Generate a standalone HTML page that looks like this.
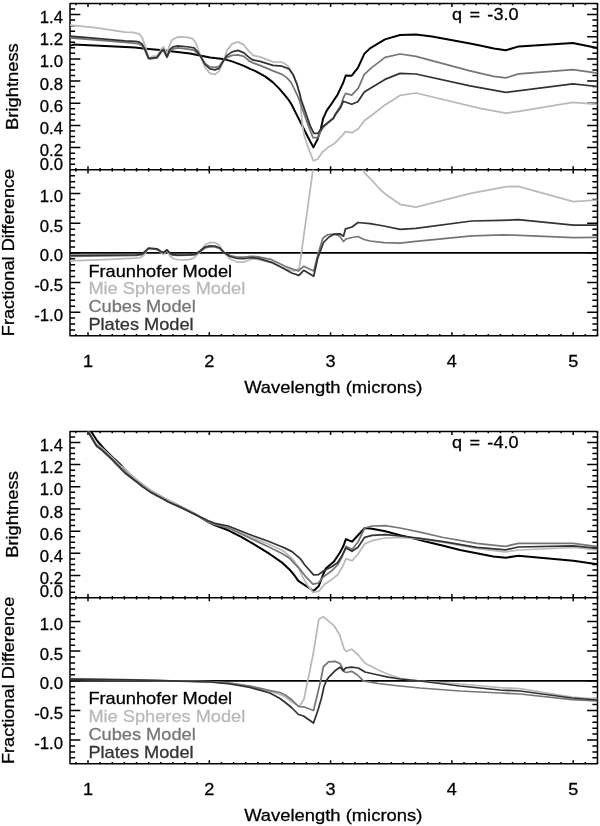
<!DOCTYPE html>
<html lang="en"><head><meta charset="utf-8"><title>Model spectra</title>
<style>html,body{margin:0;padding:0;background:#fff}svg{display:block}</style></head>
<body>
<svg width="600" height="826" viewBox="0 0 600 826" font-family="'Liberation Sans', Arial, Helvetica, sans-serif" font-size="17.0" fill="#000" stroke-width="0.28">
<defs><clipPath id="ta"><rect x="70.0" y="3.5" width="527.5" height="166.5"/></clipPath><clipPath id="la"><rect x="70.0" y="169.8" width="527.5" height="166"/></clipPath><clipPath id="tb"><rect x="70.0" y="431.4" width="527.5" height="166.5"/></clipPath><clipPath id="lb"><rect x="70.0" y="597.7" width="527.5" height="166"/></clipPath></defs>
<rect width="600" height="826" fill="#fff"/>
<g id="plot1">
<rect x="70.0" y="3.5" width="527.5" height="332.35" fill="none" stroke="#000" stroke-width="1.5" stroke-linejoin="round"/>
<line x1="70.0" y1="169.8" x2="597.5" y2="169.8" stroke="#000" stroke-width="1.5"/>
<path d="M75.87,3.5v1.8M75.87,168.0v3.6M75.87,335.85v-1.8M88.00,3.5v3.6M88.00,166.20000000000002v7.2M88.00,335.85v-3.6M100.13,3.5v1.8M100.13,168.0v3.6M100.13,335.85v-1.8M112.26,3.5v1.8M112.26,168.0v3.6M112.26,335.85v-1.8M124.39,3.5v1.8M124.39,168.0v3.6M124.39,335.85v-1.8M136.52,3.5v1.8M136.52,168.0v3.6M136.52,335.85v-1.8M148.65,3.5v1.8M148.65,168.0v3.6M148.65,335.85v-1.8M160.78,3.5v1.8M160.78,168.0v3.6M160.78,335.85v-1.8M172.91,3.5v1.8M172.91,168.0v3.6M172.91,335.85v-1.8M185.04,3.5v1.8M185.04,168.0v3.6M185.04,335.85v-1.8M197.17,3.5v1.8M197.17,168.0v3.6M197.17,335.85v-1.8M209.30,3.5v3.6M209.30,166.20000000000002v7.2M209.30,335.85v-3.6M221.43,3.5v1.8M221.43,168.0v3.6M221.43,335.85v-1.8M233.56,3.5v1.8M233.56,168.0v3.6M233.56,335.85v-1.8M245.69,3.5v1.8M245.69,168.0v3.6M245.69,335.85v-1.8M257.82,3.5v1.8M257.82,168.0v3.6M257.82,335.85v-1.8M269.95,3.5v1.8M269.95,168.0v3.6M269.95,335.85v-1.8M282.08,3.5v1.8M282.08,168.0v3.6M282.08,335.85v-1.8M294.21,3.5v1.8M294.21,168.0v3.6M294.21,335.85v-1.8M306.34,3.5v1.8M306.34,168.0v3.6M306.34,335.85v-1.8M318.47,3.5v1.8M318.47,168.0v3.6M318.47,335.85v-1.8M330.60,3.5v3.6M330.60,166.20000000000002v7.2M330.60,335.85v-3.6M342.73,3.5v1.8M342.73,168.0v3.6M342.73,335.85v-1.8M354.86,3.5v1.8M354.86,168.0v3.6M354.86,335.85v-1.8M366.99,3.5v1.8M366.99,168.0v3.6M366.99,335.85v-1.8M379.12,3.5v1.8M379.12,168.0v3.6M379.12,335.85v-1.8M391.25,3.5v1.8M391.25,168.0v3.6M391.25,335.85v-1.8M403.38,3.5v1.8M403.38,168.0v3.6M403.38,335.85v-1.8M415.51,3.5v1.8M415.51,168.0v3.6M415.51,335.85v-1.8M427.64,3.5v1.8M427.64,168.0v3.6M427.64,335.85v-1.8M439.77,3.5v1.8M439.77,168.0v3.6M439.77,335.85v-1.8M451.90,3.5v3.6M451.90,166.20000000000002v7.2M451.90,335.85v-3.6M464.03,3.5v1.8M464.03,168.0v3.6M464.03,335.85v-1.8M476.16,3.5v1.8M476.16,168.0v3.6M476.16,335.85v-1.8M488.29,3.5v1.8M488.29,168.0v3.6M488.29,335.85v-1.8M500.42,3.5v1.8M500.42,168.0v3.6M500.42,335.85v-1.8M512.55,3.5v1.8M512.55,168.0v3.6M512.55,335.85v-1.8M524.68,3.5v1.8M524.68,168.0v3.6M524.68,335.85v-1.8M536.81,3.5v1.8M536.81,168.0v3.6M536.81,335.85v-1.8M548.94,3.5v1.8M548.94,168.0v3.6M548.94,335.85v-1.8M561.07,3.5v1.8M561.07,168.0v3.6M561.07,335.85v-1.8M573.20,3.5v3.6M573.20,166.20000000000002v7.2M573.20,335.85v-3.6M585.33,3.5v1.8M585.33,168.0v3.6M585.33,335.85v-1.8M597.46,3.5v1.8M597.46,168.0v3.6M597.46,335.85v-1.8M70.0,164.26h5.1M597.5,164.26h-5.1M70.0,158.71h5.1M597.5,158.71h-5.1M70.0,153.17h5.1M597.5,153.17h-5.1M70.0,147.62h10.35M597.5,147.62h-10.35M70.0,142.08h5.1M597.5,142.08h-5.1M70.0,136.53h5.1M597.5,136.53h-5.1M70.0,130.99h5.1M597.5,130.99h-5.1M70.0,125.44h10.35M597.5,125.44h-10.35M70.0,119.90h5.1M597.5,119.90h-5.1M70.0,114.35h5.1M597.5,114.35h-5.1M70.0,108.81h5.1M597.5,108.81h-5.1M70.0,103.26h10.35M597.5,103.26h-10.35M70.0,97.72h5.1M597.5,97.72h-5.1M70.0,92.17h5.1M597.5,92.17h-5.1M70.0,86.62h5.1M597.5,86.62h-5.1M70.0,81.08h10.35M597.5,81.08h-10.35M70.0,75.53h5.1M597.5,75.53h-5.1M70.0,69.99h5.1M597.5,69.99h-5.1M70.0,64.44h5.1M597.5,64.44h-5.1M70.0,58.90h10.35M597.5,58.90h-10.35M70.0,53.36h5.1M597.5,53.36h-5.1M70.0,47.81h5.1M597.5,47.81h-5.1M70.0,42.26h5.1M597.5,42.26h-5.1M70.0,36.72h10.35M597.5,36.72h-10.35M70.0,31.18h5.1M597.5,31.18h-5.1M70.0,25.63h5.1M597.5,25.63h-5.1M70.0,20.09h5.1M597.5,20.09h-5.1M70.0,14.54h10.35M597.5,14.54h-10.35M70.0,8.99h5.1M597.5,8.99h-5.1M70.0,329.94h5.1M597.5,329.94h-5.1M70.0,324.01h5.1M597.5,324.01h-5.1M70.0,318.08h5.1M597.5,318.08h-5.1M70.0,312.15h10.35M597.5,312.15h-10.35M70.0,306.22h5.1M597.5,306.22h-5.1M70.0,300.29h5.1M597.5,300.29h-5.1M70.0,294.36h5.1M597.5,294.36h-5.1M70.0,288.43h5.1M597.5,288.43h-5.1M70.0,282.50h10.35M597.5,282.50h-10.35M70.0,276.57h5.1M597.5,276.57h-5.1M70.0,270.64h5.1M597.5,270.64h-5.1M70.0,264.71h5.1M597.5,264.71h-5.1M70.0,258.78h5.1M597.5,258.78h-5.1M70.0,252.85h10.35M597.5,252.85h-10.35M70.0,246.92h5.1M597.5,246.92h-5.1M70.0,240.99h5.1M597.5,240.99h-5.1M70.0,235.06h5.1M597.5,235.06h-5.1M70.0,229.13h5.1M597.5,229.13h-5.1M70.0,223.20h10.35M597.5,223.20h-10.35M70.0,217.27h5.1M597.5,217.27h-5.1M70.0,211.34h5.1M597.5,211.34h-5.1M70.0,205.41h5.1M597.5,205.41h-5.1M70.0,199.48h5.1M597.5,199.48h-5.1M70.0,193.55h10.35M597.5,193.55h-10.35M70.0,187.62h5.1M597.5,187.62h-5.1M70.0,181.69h5.1M597.5,181.69h-5.1M70.0,175.76h5.1M597.5,175.76h-5.1" stroke="#000" stroke-width="1.5" fill="none"/>
<polyline points="70.0,45.7 73.3,44.6 100.0,45.8 135.0,47.4 143.3,48.4 160.0,50.1 190.0,53.4 200.0,55.4 210.0,57.4 223.0,58.9 232.0,61.4 240.0,64.4 245.0,66.4 250.0,68.9 255.0,70.9 265.0,76.4 273.0,82.4 279.0,88.4 285.0,95.4 289.0,100.4 291.7,104.7 297.5,116.4 301.7,124.6 307.5,136.2 313.4,147.4 317.4,139.6 320.6,130.0 323.2,118.2 324.6,115.4 326.7,110.6 328.8,107.6 331.3,104.2 335.2,98.2 337.2,95.4 343.3,82.5 345.7,75.5 351.5,75.8 357.9,67.9 364.3,53.9 370.0,48.4 385.0,39.4 400.0,35.0 416.0,34.4 432.0,36.4 470.0,43.4 480.0,45.6 493.8,48.6 505.8,50.3 518.8,46.4 572.9,43.1 597.5,48.1" fill="none" stroke="#000" stroke-width="2.0" stroke-linejoin="round" clip-path="url(#ta)"/>
<polyline points="70.0,25.1 95.0,27.6 125.0,32.1 133.3,32.3 135.0,32.9 139.0,33.9 142.0,37.4 145.0,45.4 148.0,55.9 149.5,58.9 152.0,56.4 157.0,55.9 161.0,49.4 163.5,46.9 167.0,53.4 169.5,45.4 172.0,39.9 177.0,37.2 182.0,36.9 189.0,37.6 193.0,38.9 196.0,43.4 200.0,54.4 205.0,67.4 210.0,73.4 215.0,74.4 219.0,71.4 223.0,62.4 227.0,50.4 232.0,43.9 238.0,41.9 244.0,44.9 247.0,48.9 249.0,51.4 253.0,55.4 260.0,56.9 273.0,61.9 282.0,62.2 286.0,64.4 289.0,67.4 293.0,74.4 297.0,84.4 299.8,95.4 300.8,107.1 302.5,126.2 304.2,135.4 308.3,147.9 313.3,160.8 317.5,159.2 322.5,152.1 328.3,147.1 334.2,143.7 340.0,137.9 345.5,131.7 351.9,132.7 358.3,128.8 364.2,120.7 372.3,114.8 385.0,104.9 400.0,95.4 416.0,93.0 480.0,108.4 505.8,113.1 518.8,111.4 572.9,102.3 597.5,104.4" fill="none" stroke="#b9b9b9" stroke-width="1.75" stroke-linejoin="round" clip-path="url(#ta)"/>
<polyline points="70.0,37.9 125.0,42.4 138.3,43.7 142.0,45.4 145.0,50.4 148.5,58.6 150.0,59.0 157.0,58.0 161.0,52.4 163.5,50.4 167.0,57.4 170.0,50.9 173.0,48.9 178.0,47.9 190.0,49.4 194.0,50.4 200.0,55.4 205.0,63.4 210.0,66.9 215.0,67.4 219.0,66.4 223.0,60.9 227.0,57.4 232.0,55.4 238.0,54.9 244.0,56.4 249.0,60.9 253.0,62.9 260.0,65.4 273.0,70.9 282.0,74.4 287.0,77.9 291.0,82.4 295.0,90.4 298.5,97.9 302.9,110.4 307.5,123.4 312.9,137.5 317.9,137.5 320.0,132.9 323.3,127.1 328.3,122.9 333.3,118.7 335.2,113.9 341.0,105.2 343.3,98.0 345.6,93.4 351.7,95.1 358.3,88.2 364.3,74.4 371.3,67.9 378.3,62.6 385.0,57.4 400.0,54.0 416.0,56.4 470.0,70.9 493.8,76.3 505.8,77.8 518.8,73.9 572.9,69.6 597.5,73.1" fill="none" stroke="#767676" stroke-width="1.75" stroke-linejoin="round" clip-path="url(#ta)"/>
<polyline points="70.0,36.2 125.0,40.9 135.0,41.4 139.0,41.9 142.0,43.9 145.0,49.4 148.5,57.9 150.0,58.4 157.0,57.4 161.0,51.4 163.5,49.4 167.0,56.9 170.0,49.4 173.0,46.9 178.0,45.9 189.0,47.0 194.0,47.9 198.0,52.4 200.0,55.4 205.0,64.4 210.0,68.9 215.0,69.9 219.0,68.4 223.0,61.4 227.0,55.4 232.0,51.9 238.0,50.4 244.0,52.9 249.0,57.4 253.0,59.9 260.0,61.4 273.0,65.4 282.0,66.2 289.0,68.9 293.0,74.4 297.0,84.4 300.0,94.4 301.0,99.4 304.5,109.4 310.0,125.4 313.8,133.3 317.9,133.3 320.0,130.4 323.3,126.2 328.3,122.1 333.3,118.3 335.2,115.0 340.8,107.2 343.3,101.2 351.7,104.3 357.8,101.7 364.3,92.1 371.3,87.7 385.0,79.4 400.0,73.4 416.0,74.0 470.0,85.9 505.8,92.3 572.9,83.9 597.5,86.5" fill="none" stroke="#333" stroke-width="1.75" stroke-linejoin="round" clip-path="url(#ta)"/>
<polyline points="70.0,252.9 597.5,252.9" fill="none" stroke="#000" stroke-width="1.75" stroke-linejoin="round"/>
<polyline points="70.0,260.9 110.0,259.4 135.0,258.1 140.5,257.5 144.0,255.0 146.5,251.0 148.5,248.5 157.0,249.5 161.0,252.5 163.5,254.5 167.0,250.5 170.0,256.0 174.0,259.0 180.0,260.0 189.0,259.7 194.0,258.0 200.0,252.0 205.0,245.0 210.0,242.5 215.0,242.5 219.0,245.0 224.0,252.5 230.0,259.0 237.0,262.0 244.0,262.0 248.0,260.3 251.7,259.0 258.0,259.5 271.7,263.0 285.0,269.0 294.3,271.0 299.3,268.0 313.0,169.5 314.0,162.0" fill="none" stroke="#b9b9b9" stroke-width="1.75" stroke-linejoin="round" clip-path="url(#la)"/>
<polyline points="360.5,162.0 362.4,169.2 365.0,173.3 371.7,180.0 378.3,187.5 385.0,193.8 400.0,204.3 415.8,207.1 471.7,193.2 500.0,187.8 506.7,186.7 518.3,186.3 573.3,201.7 597.5,200.0" fill="none" stroke="#b9b9b9" stroke-width="1.75" stroke-linejoin="round" clip-path="url(#la)"/>
<polyline points="70.0,256.3 136.7,255.5 142.0,254.6 145.0,252.0 148.5,248.6 157.0,249.3 161.0,252.0 163.5,253.0 167.0,250.3 169.5,253.0 172.0,254.8 177.0,255.4 189.0,255.2 195.0,254.6 200.0,251.5 205.0,248.0 210.0,246.8 215.0,247.0 220.0,248.8 224.0,252.5 230.0,255.5 237.0,257.0 244.0,257.0 248.0,256.7 251.7,256.3 258.3,256.8 271.7,259.7 285.0,266.3 298.3,271.0 303.7,266.3 313.7,271.0 318.3,253.0 323.0,238.0 328.0,234.5 334.0,234.2 339.5,236.0 343.5,241.5 346.0,239.0 352.0,237.5 358.0,236.5 364.0,239.5 370.0,241.0 384.0,242.6 400.0,243.2 415.8,241.4 471.7,235.8 503.3,234.8 573.3,237.6 597.5,237.4" fill="none" stroke="#767676" stroke-width="1.75" stroke-linejoin="round" clip-path="url(#la)"/>
<polyline points="70.0,255.5 136.7,254.9 142.0,254.0 145.0,251.5 148.5,248.0 157.0,248.8 161.0,251.5 163.5,252.5 167.0,249.8 169.5,252.5 172.0,254.5 177.0,255.2 189.0,255.0 195.0,254.5 200.0,251.0 205.0,247.0 210.0,245.8 215.0,246.0 220.0,248.0 224.0,252.5 230.0,256.5 237.0,258.5 244.0,258.7 248.0,258.0 251.7,257.7 258.3,258.3 271.7,262.3 282.3,267.7 291.7,273.0 299.0,275.4 303.7,270.3 313.7,276.3 317.7,258.3 323.5,242.5 329.0,237.0 334.0,234.2 340.0,233.8 343.5,236.2 345.5,228.8 352.0,227.0 358.0,222.5 370.0,223.6 384.0,226.0 400.0,229.3 415.8,228.3 471.7,221.0 500.0,220.4 518.3,219.7 573.3,225.1 597.5,225.1" fill="none" stroke="#333" stroke-width="1.75" stroke-linejoin="round" clip-path="url(#la)"/>
<text transform="translate(63.0,23.0) scale(0.985,1)" text-anchor="end" fill="#000" stroke="#000">1.4</text>
<text transform="translate(63.0,45.2) scale(0.985,1)" text-anchor="end" fill="#000" stroke="#000">1.2</text>
<text transform="translate(63.0,67.4) scale(0.985,1)" text-anchor="end" fill="#000" stroke="#000">1.0</text>
<text transform="translate(63.0,89.6) scale(0.985,1)" text-anchor="end" fill="#000" stroke="#000">0.8</text>
<text transform="translate(63.0,111.8) scale(0.985,1)" text-anchor="end" fill="#000" stroke="#000">0.6</text>
<text transform="translate(63.0,133.9) scale(0.985,1)" text-anchor="end" fill="#000" stroke="#000">0.4</text>
<text transform="translate(63.0,156.1) scale(0.985,1)" text-anchor="end" fill="#000" stroke="#000">0.2</text>
<text transform="translate(63.0,169.5) scale(0.985,1)" text-anchor="end" fill="#000" stroke="#000">0.0</text>
<text transform="translate(63.0,202.1) scale(0.985,1)" text-anchor="end" fill="#000" stroke="#000">1.0</text>
<text transform="translate(63.0,231.7) scale(0.985,1)" text-anchor="end" fill="#000" stroke="#000">0.5</text>
<text transform="translate(63.0,261.4) scale(0.985,1)" text-anchor="end" fill="#000" stroke="#000">0.0</text>
<text transform="translate(63.0,291.0) scale(0.985,1)" text-anchor="end" fill="#000" stroke="#000">-0.5</text>
<text transform="translate(63.0,320.6) scale(0.985,1)" text-anchor="end" fill="#000" stroke="#000">-1.0</text>
<text transform="translate(88.0,367.2) scale(1.065,1)" text-anchor="middle" fill="#000" stroke="#000">1</text>
<text transform="translate(209.3,367.2) scale(1.065,1)" text-anchor="middle" fill="#000" stroke="#000">2</text>
<text transform="translate(330.6,367.2) scale(1.065,1)" text-anchor="middle" fill="#000" stroke="#000">3</text>
<text transform="translate(451.9,367.2) scale(1.065,1)" text-anchor="middle" fill="#000" stroke="#000">4</text>
<text transform="translate(573.2,367.2) scale(1.065,1)" text-anchor="middle" fill="#000" stroke="#000">5</text>
<text transform="translate(333.2,393.1) scale(1.082,1)" text-anchor="middle" fill="#000" stroke="#000">Wavelength (microns)</text>
<text transform="translate(18.2,86.6) rotate(-90) scale(1.08,1)" text-anchor="middle" fill="#000" stroke="#000">Brightness</text>
<text transform="translate(14.4,252.5) rotate(-90) scale(1.07,1)" text-anchor="middle" fill="#000" stroke="#000">Fractional Difference</text>
<text transform="translate(452.0,20.0) scale(1.065,1)" fill="#000" stroke="#000" word-spacing="2.2">q = -3.0</text>
<text transform="translate(88.4,276.5) scale(1.072,1)" fill="#000" stroke="#000">Fraunhofer Model</text>
<text transform="translate(88.4,294.2) scale(1.072,1)" fill="#b9b9b9" stroke="#b9b9b9">Mie Spheres Model</text>
<text transform="translate(88.4,311.9) scale(1.072,1)" fill="#767676" stroke="#767676">Cubes Model</text>
<text transform="translate(88.4,329.6) scale(1.072,1)" fill="#333" stroke="#333">Plates Model</text>
</g>
<g id="plot2">
<rect x="70.0" y="431.4" width="527.5" height="332.35" fill="none" stroke="#000" stroke-width="1.5" stroke-linejoin="round"/>
<line x1="70.0" y1="597.7" x2="597.5" y2="597.7" stroke="#000" stroke-width="1.5"/>
<path d="M75.87,431.4v1.8M75.87,595.9000000000001v3.6M75.87,763.75v-1.8M88.00,431.4v3.6M88.00,594.1v7.2M88.00,763.75v-3.6M100.13,431.4v1.8M100.13,595.9000000000001v3.6M100.13,763.75v-1.8M112.26,431.4v1.8M112.26,595.9000000000001v3.6M112.26,763.75v-1.8M124.39,431.4v1.8M124.39,595.9000000000001v3.6M124.39,763.75v-1.8M136.52,431.4v1.8M136.52,595.9000000000001v3.6M136.52,763.75v-1.8M148.65,431.4v1.8M148.65,595.9000000000001v3.6M148.65,763.75v-1.8M160.78,431.4v1.8M160.78,595.9000000000001v3.6M160.78,763.75v-1.8M172.91,431.4v1.8M172.91,595.9000000000001v3.6M172.91,763.75v-1.8M185.04,431.4v1.8M185.04,595.9000000000001v3.6M185.04,763.75v-1.8M197.17,431.4v1.8M197.17,595.9000000000001v3.6M197.17,763.75v-1.8M209.30,431.4v3.6M209.30,594.1v7.2M209.30,763.75v-3.6M221.43,431.4v1.8M221.43,595.9000000000001v3.6M221.43,763.75v-1.8M233.56,431.4v1.8M233.56,595.9000000000001v3.6M233.56,763.75v-1.8M245.69,431.4v1.8M245.69,595.9000000000001v3.6M245.69,763.75v-1.8M257.82,431.4v1.8M257.82,595.9000000000001v3.6M257.82,763.75v-1.8M269.95,431.4v1.8M269.95,595.9000000000001v3.6M269.95,763.75v-1.8M282.08,431.4v1.8M282.08,595.9000000000001v3.6M282.08,763.75v-1.8M294.21,431.4v1.8M294.21,595.9000000000001v3.6M294.21,763.75v-1.8M306.34,431.4v1.8M306.34,595.9000000000001v3.6M306.34,763.75v-1.8M318.47,431.4v1.8M318.47,595.9000000000001v3.6M318.47,763.75v-1.8M330.60,431.4v3.6M330.60,594.1v7.2M330.60,763.75v-3.6M342.73,431.4v1.8M342.73,595.9000000000001v3.6M342.73,763.75v-1.8M354.86,431.4v1.8M354.86,595.9000000000001v3.6M354.86,763.75v-1.8M366.99,431.4v1.8M366.99,595.9000000000001v3.6M366.99,763.75v-1.8M379.12,431.4v1.8M379.12,595.9000000000001v3.6M379.12,763.75v-1.8M391.25,431.4v1.8M391.25,595.9000000000001v3.6M391.25,763.75v-1.8M403.38,431.4v1.8M403.38,595.9000000000001v3.6M403.38,763.75v-1.8M415.51,431.4v1.8M415.51,595.9000000000001v3.6M415.51,763.75v-1.8M427.64,431.4v1.8M427.64,595.9000000000001v3.6M427.64,763.75v-1.8M439.77,431.4v1.8M439.77,595.9000000000001v3.6M439.77,763.75v-1.8M451.90,431.4v3.6M451.90,594.1v7.2M451.90,763.75v-3.6M464.03,431.4v1.8M464.03,595.9000000000001v3.6M464.03,763.75v-1.8M476.16,431.4v1.8M476.16,595.9000000000001v3.6M476.16,763.75v-1.8M488.29,431.4v1.8M488.29,595.9000000000001v3.6M488.29,763.75v-1.8M500.42,431.4v1.8M500.42,595.9000000000001v3.6M500.42,763.75v-1.8M512.55,431.4v1.8M512.55,595.9000000000001v3.6M512.55,763.75v-1.8M524.68,431.4v1.8M524.68,595.9000000000001v3.6M524.68,763.75v-1.8M536.81,431.4v1.8M536.81,595.9000000000001v3.6M536.81,763.75v-1.8M548.94,431.4v1.8M548.94,595.9000000000001v3.6M548.94,763.75v-1.8M561.07,431.4v1.8M561.07,595.9000000000001v3.6M561.07,763.75v-1.8M573.20,431.4v3.6M573.20,594.1v7.2M573.20,763.75v-3.6M585.33,431.4v1.8M585.33,595.9000000000001v3.6M585.33,763.75v-1.8M597.46,431.4v1.8M597.46,595.9000000000001v3.6M597.46,763.75v-1.8M70.0,592.16h5.1M597.5,592.16h-5.1M70.0,586.61h5.1M597.5,586.61h-5.1M70.0,581.07h5.1M597.5,581.07h-5.1M70.0,575.52h10.35M597.5,575.52h-10.35M70.0,569.98h5.1M597.5,569.98h-5.1M70.0,564.43h5.1M597.5,564.43h-5.1M70.0,558.88h5.1M597.5,558.88h-5.1M70.0,553.34h10.35M597.5,553.34h-10.35M70.0,547.80h5.1M597.5,547.80h-5.1M70.0,542.25h5.1M597.5,542.25h-5.1M70.0,536.71h5.1M597.5,536.71h-5.1M70.0,531.16h10.35M597.5,531.16h-10.35M70.0,525.62h5.1M597.5,525.62h-5.1M70.0,520.07h5.1M597.5,520.07h-5.1M70.0,514.53h5.1M597.5,514.53h-5.1M70.0,508.98h10.35M597.5,508.98h-10.35M70.0,503.44h5.1M597.5,503.44h-5.1M70.0,497.89h5.1M597.5,497.89h-5.1M70.0,492.35h5.1M597.5,492.35h-5.1M70.0,486.80h10.35M597.5,486.80h-10.35M70.0,481.26h5.1M597.5,481.26h-5.1M70.0,475.71h5.1M597.5,475.71h-5.1M70.0,470.17h5.1M597.5,470.17h-5.1M70.0,464.62h10.35M597.5,464.62h-10.35M70.0,459.08h5.1M597.5,459.08h-5.1M70.0,453.53h5.1M597.5,453.53h-5.1M70.0,447.99h5.1M597.5,447.99h-5.1M70.0,442.44h10.35M597.5,442.44h-10.35M70.0,436.89h5.1M597.5,436.89h-5.1M70.0,757.84h5.1M597.5,757.84h-5.1M70.0,751.91h5.1M597.5,751.91h-5.1M70.0,745.98h5.1M597.5,745.98h-5.1M70.0,740.05h10.35M597.5,740.05h-10.35M70.0,734.12h5.1M597.5,734.12h-5.1M70.0,728.19h5.1M597.5,728.19h-5.1M70.0,722.26h5.1M597.5,722.26h-5.1M70.0,716.33h5.1M597.5,716.33h-5.1M70.0,710.40h10.35M597.5,710.40h-10.35M70.0,704.47h5.1M597.5,704.47h-5.1M70.0,698.54h5.1M597.5,698.54h-5.1M70.0,692.61h5.1M597.5,692.61h-5.1M70.0,686.68h5.1M597.5,686.68h-5.1M70.0,680.75h10.35M597.5,680.75h-10.35M70.0,674.82h5.1M597.5,674.82h-5.1M70.0,668.89h5.1M597.5,668.89h-5.1M70.0,662.96h5.1M597.5,662.96h-5.1M70.0,657.03h5.1M597.5,657.03h-5.1M70.0,651.10h10.35M597.5,651.10h-10.35M70.0,645.17h5.1M597.5,645.17h-5.1M70.0,639.24h5.1M597.5,639.24h-5.1M70.0,633.31h5.1M597.5,633.31h-5.1M70.0,627.38h5.1M597.5,627.38h-5.1M70.0,621.45h10.35M597.5,621.45h-10.35M70.0,615.52h5.1M597.5,615.52h-5.1M70.0,609.59h5.1M597.5,609.59h-5.1M70.0,603.66h5.1M597.5,603.66h-5.1" stroke="#000" stroke-width="1.5" fill="none"/>
<polyline points="90.3,429.5 91.3,431.7 97.3,441.0 104.0,448.6 114.0,458.6 120.0,464.2 124.0,468.4 130.0,474.6 136.7,480.3 150.0,490.4 165.0,498.8 180.0,506.3 196.7,515.0 208.3,522.2 215.0,525.3 228.3,530.3 241.7,537.2 255.0,544.8 270.0,554.2 282.5,562.9 289.2,569.2 294.2,575.0 298.3,580.8 308.3,587.5 313.5,591.0 318.8,586.0 322.3,576.7 325.8,568.5 334.0,561.5 339.8,552.8 343.3,546.3 345.9,539.1 352.0,541.7 358.0,535.3 364.7,528.0 372.0,528.7 385.3,531.3 400.0,535.3 410.0,537.5 426.7,541.7 443.3,545.8 460.0,550.0 476.7,553.3 493.3,556.5 505.8,557.7 518.3,555.8 573.3,560.8 597.5,564.2" fill="none" stroke="#000" stroke-width="2.0" stroke-linejoin="round" clip-path="url(#tb)"/>
<polyline points="87.8,429.5 88.8,431.7 96.8,445.3 97.0,444.3 100.7,447.0 110.7,456.2 120.0,465.4 124.1,468.1 130.1,474.3 136.8,480.0 150.1,490.1 165.1,498.5 180.1,506.0 196.8,514.7 208.3,521.5 215.0,524.0 228.3,527.3 248.3,536.0 268.3,544.0 281.7,550.0 285.0,552.2 292.0,558.6 297.8,566.2 302.5,576.7 307.2,584.8 313.0,592.4 318.8,591.2 324.7,584.2 331.7,579.6 337.5,574.9 342.2,567.3 346.0,558.6 352.0,560.8 358.0,554.0 364.7,544.0 372.0,540.7 385.3,538.0 400.0,537.3 420.0,538.9 443.3,542.3 476.7,548.3 500.0,551.4 505.8,552.0 518.3,550.0 573.3,547.5 597.5,550.0" fill="none" stroke="#b9b9b9" stroke-width="1.75" stroke-linejoin="round" clip-path="url(#tb)"/>
<polyline points="87.4,429.5 88.4,431.7 96.4,445.3 97.0,445.4 100.7,448.1 110.7,457.3 120.0,466.9 125.0,472.2 136.7,481.6 143.0,486.6 150.0,491.5 157.0,495.5 165.0,499.7 168.3,501.7 180.0,506.9 196.7,515.2 208.3,522.0 215.0,524.7 228.3,528.0 248.3,537.3 270.0,547.5 282.5,553.8 289.2,557.9 295.0,564.2 300.0,569.2 305.0,575.8 312.9,584.2 318.2,583.1 323.5,576.7 331.7,570.8 337.5,565.0 342.2,556.8 346.0,546.4 352.0,549.5 358.0,542.0 364.7,528.0 372.0,526.0 385.3,525.7 400.0,528.0 420.0,532.2 443.3,537.5 476.7,543.3 500.0,545.8 505.8,546.3 518.3,543.3 573.3,543.3 597.5,546.7" fill="none" stroke="#767676" stroke-width="1.75" stroke-linejoin="round" clip-path="url(#tb)"/>
<polyline points="87.0,429.5 88.0,431.7 96.0,445.3 97.0,446.6 100.7,449.2 110.7,458.4 120.0,468.0 125.0,473.0 136.7,482.0 143.0,487.0 150.0,491.9 157.0,495.8 165.0,500.0 168.3,502.0 180.0,507.1 196.7,515.2 208.3,520.8 215.0,523.3 228.3,526.0 248.3,534.0 268.3,541.3 281.7,546.7 285.0,548.1 292.0,551.6 300.2,558.6 304.8,565.0 313.6,574.9 318.2,574.7 324.7,570.2 331.7,566.8 337.5,562.7 342.2,555.1 346.0,548.0 352.0,551.3 358.0,547.3 364.7,537.3 372.0,535.3 385.3,534.7 400.0,536.0 420.0,538.4 443.3,541.7 476.7,547.3 500.0,549.4 505.8,549.9 518.3,547.0 573.3,545.8 597.5,548.3" fill="none" stroke="#333" stroke-width="1.75" stroke-linejoin="round" clip-path="url(#tb)"/>
<polyline points="70.0,680.8 597.5,680.8" fill="none" stroke="#000" stroke-width="1.75" stroke-linejoin="round"/>
<polyline points="70.0,678.7 130.0,679.6 180.0,681.0 210.0,681.8 230.0,683.4 250.0,686.6 270.0,691.0 280.0,694.5 286.0,697.5 292.0,702.0 299.5,706.5 304.0,699.0 307.0,684.0 310.0,670.0 313.3,653.3 318.8,619.2 323.3,616.7 334.2,625.8 339.7,635.0 344.2,649.2 346.3,651.3 351.7,649.2 358.3,655.0 365.0,663.3 378.3,670.0 388.3,674.2 400.0,678.4 420.0,681.0 460.0,684.0 500.0,687.6 520.0,688.6 572.0,697.0 597.5,699.0" fill="none" stroke="#b9b9b9" stroke-width="1.75" stroke-linejoin="round" clip-path="url(#lb)"/>
<polyline points="70.0,679.3 130.0,680.0 180.0,681.0 210.0,681.7 230.0,683.0 250.0,686.0 270.0,690.6 280.0,692.5 286.0,695.5 292.0,700.0 298.5,706.5 303.5,706.8 313.5,710.5 318.0,692.0 321.0,679.0 323.3,666.8 328.5,661.8 335.0,661.4 340.0,663.5 344.2,671.7 346.3,672.5 351.7,671.3 357.5,675.0 363.3,680.8 378.3,683.5 395.0,685.5 420.0,688.0 460.0,691.0 500.0,693.0 520.0,694.0 572.0,699.6 597.5,701.0" fill="none" stroke="#767676" stroke-width="1.75" stroke-linejoin="round" clip-path="url(#lb)"/>
<polyline points="70.0,679.0 130.0,679.8 180.0,681.2 210.0,682.0 230.0,684.0 250.0,687.4 270.0,693.0 280.0,698.5 286.0,703.0 292.0,708.0 298.5,714.5 303.5,716.0 313.5,723.0 318.0,710.0 321.5,698.0 324.0,686.5 326.7,680.0 329.2,676.7 335.0,670.8 340.0,667.2 343.3,670.8 345.8,667.8 351.7,667.2 358.3,668.0 365.0,672.0 378.3,675.0 388.3,677.2 400.0,679.0 420.0,681.0 460.0,686.0 500.0,690.0 520.0,691.0 572.0,698.0 597.5,700.0" fill="none" stroke="#333" stroke-width="1.75" stroke-linejoin="round" clip-path="url(#lb)"/>
<text transform="translate(63.0,450.9) scale(0.985,1)" text-anchor="end" fill="#000" stroke="#000">1.4</text>
<text transform="translate(63.0,473.1) scale(0.985,1)" text-anchor="end" fill="#000" stroke="#000">1.2</text>
<text transform="translate(63.0,495.3) scale(0.985,1)" text-anchor="end" fill="#000" stroke="#000">1.0</text>
<text transform="translate(63.0,517.5) scale(0.985,1)" text-anchor="end" fill="#000" stroke="#000">0.8</text>
<text transform="translate(63.0,539.7) scale(0.985,1)" text-anchor="end" fill="#000" stroke="#000">0.6</text>
<text transform="translate(63.0,561.8) scale(0.985,1)" text-anchor="end" fill="#000" stroke="#000">0.4</text>
<text transform="translate(63.0,584.0) scale(0.985,1)" text-anchor="end" fill="#000" stroke="#000">0.2</text>
<text transform="translate(63.0,597.4) scale(0.985,1)" text-anchor="end" fill="#000" stroke="#000">0.0</text>
<text transform="translate(63.0,630.0) scale(0.985,1)" text-anchor="end" fill="#000" stroke="#000">1.0</text>
<text transform="translate(63.0,659.6) scale(0.985,1)" text-anchor="end" fill="#000" stroke="#000">0.5</text>
<text transform="translate(63.0,689.2) scale(0.985,1)" text-anchor="end" fill="#000" stroke="#000">0.0</text>
<text transform="translate(63.0,718.9) scale(0.985,1)" text-anchor="end" fill="#000" stroke="#000">-0.5</text>
<text transform="translate(63.0,748.5) scale(0.985,1)" text-anchor="end" fill="#000" stroke="#000">-1.0</text>
<text transform="translate(88.0,795.1) scale(1.065,1)" text-anchor="middle" fill="#000" stroke="#000">1</text>
<text transform="translate(209.3,795.1) scale(1.065,1)" text-anchor="middle" fill="#000" stroke="#000">2</text>
<text transform="translate(330.6,795.1) scale(1.065,1)" text-anchor="middle" fill="#000" stroke="#000">3</text>
<text transform="translate(451.9,795.1) scale(1.065,1)" text-anchor="middle" fill="#000" stroke="#000">4</text>
<text transform="translate(573.2,795.1) scale(1.065,1)" text-anchor="middle" fill="#000" stroke="#000">5</text>
<text transform="translate(333.2,821.0) scale(1.082,1)" text-anchor="middle" fill="#000" stroke="#000">Wavelength (microns)</text>
<text transform="translate(18.2,514.5) rotate(-90) scale(1.08,1)" text-anchor="middle" fill="#000" stroke="#000">Brightness</text>
<text transform="translate(14.4,680.4) rotate(-90) scale(1.07,1)" text-anchor="middle" fill="#000" stroke="#000">Fractional Difference</text>
<text transform="translate(452.0,447.9) scale(1.065,1)" fill="#000" stroke="#000" word-spacing="2.2">q = -4.0</text>
<text transform="translate(88.4,704.4) scale(1.072,1)" fill="#000" stroke="#000">Fraunhofer Model</text>
<text transform="translate(88.4,722.1) scale(1.072,1)" fill="#b9b9b9" stroke="#b9b9b9">Mie Spheres Model</text>
<text transform="translate(88.4,739.8) scale(1.072,1)" fill="#767676" stroke="#767676">Cubes Model</text>
<text transform="translate(88.4,757.5) scale(1.072,1)" fill="#333" stroke="#333">Plates Model</text>
</g>
</svg>
</body></html>
